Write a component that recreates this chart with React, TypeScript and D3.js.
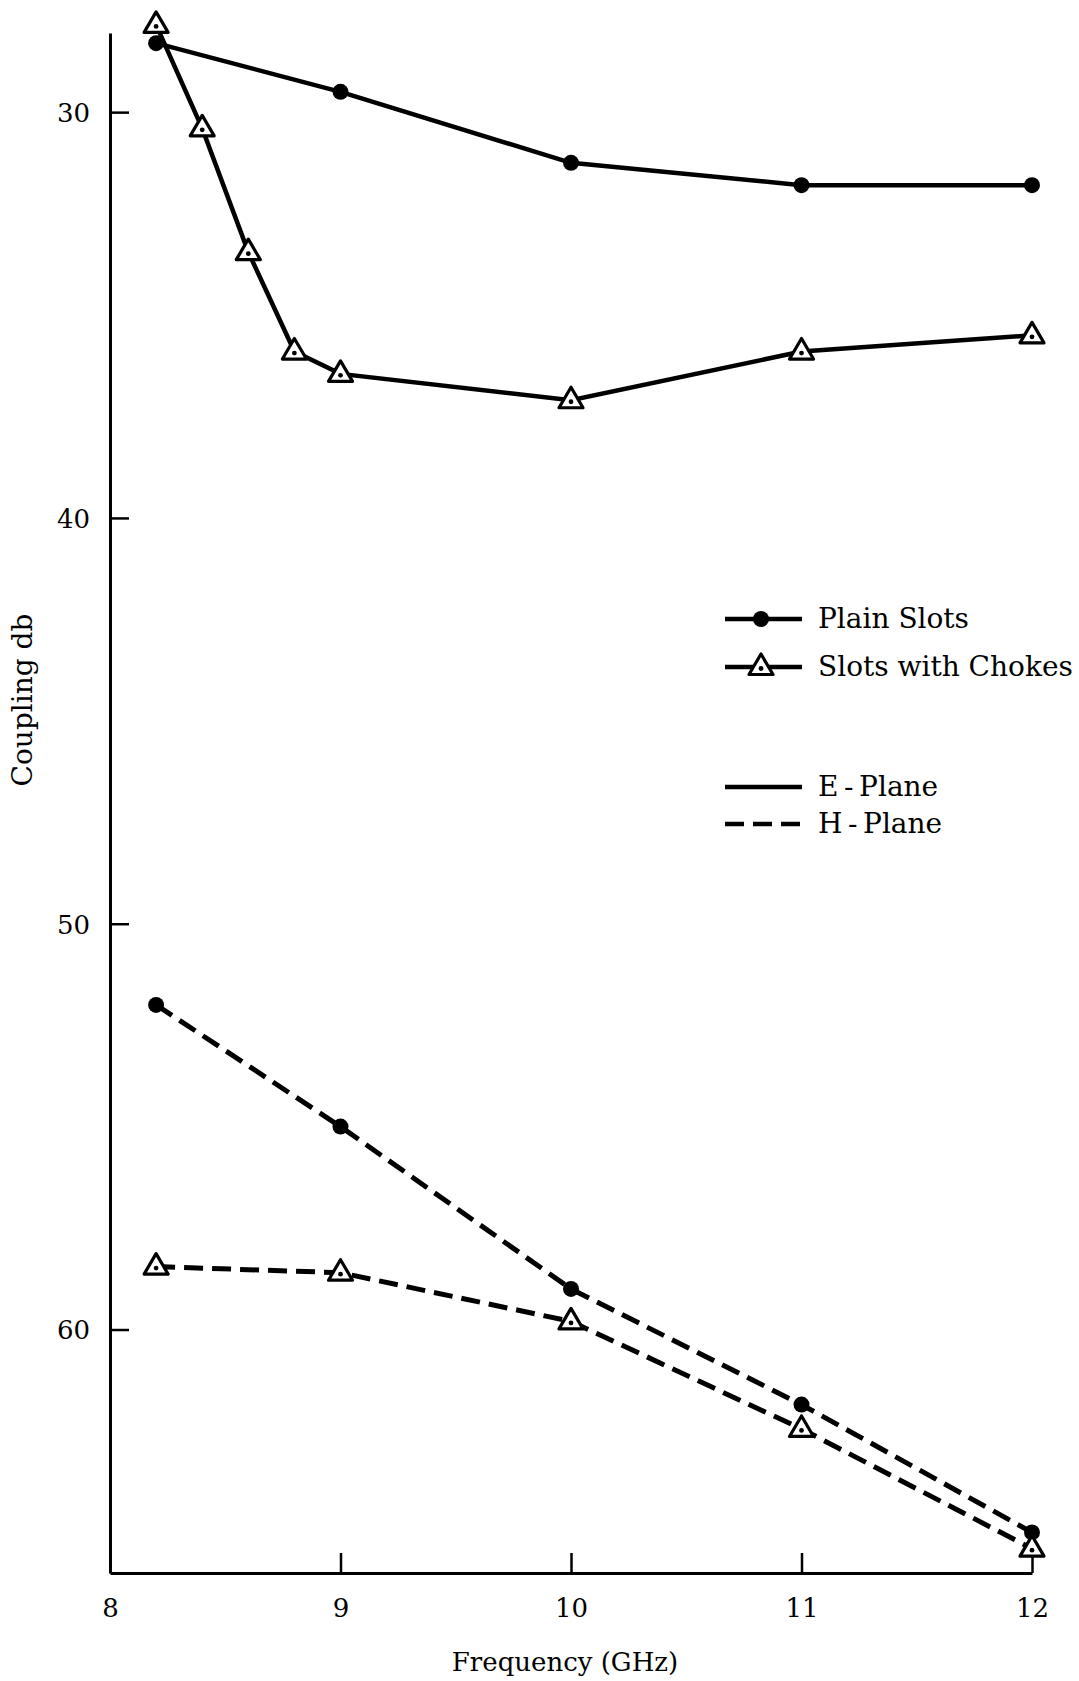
import { useEffect, useRef } from "react";
import * as d3 from "d3";

// frequency (GHz) for each series
const plainFreq = [8.2, 9, 10, 11, 12];
const chokeFreqE = [8.2, 8.4, 8.6, 8.8, 9, 10, 11, 12];
const chokeFreqH = [8.2, 9, 10, 11, 12];

// coupling (db)
const plainE = [28.3, 29.5, 31.25, 31.8, 31.8];
const chokeE = [27.85, 30.4, 33.45, 35.9, 36.45, 37.1, 35.9, 35.5];
const plainH = [52.0, 55.0, 59.0, 61.85, 65.0];
const chokeH = [58.45, 58.6, 59.8, 62.45, 65.4];

const xTicks = [8, 9, 10, 11, 12];
const yTicks = [30, 40, 50, 60];

const legendMarkers = ["Plain Slots", "Slots with Chokes"];
const legendLines = ["E\u2009-\u2009Plane", "H\u2009-\u2009Plane"];

const FONT = "'DejaVu Serif', 'Liberation Serif', serif";
const FS = "26px";
const LEGEND_FS = "28px";

export default function App() {
  const svgRef = useRef<SVGSVGElement | null>(null);
  const width = 1079;
  const height = 1681;

  useEffect(() => {
    if (!svgRef.current) return;
    const svg = d3.select(svgRef.current);
    svg.selectAll("*").remove();

    const x = d3.scaleLinear().domain([8, 12]).range([110, 1032]);
    const y = d3.scaleLinear().domain([28.05, 66]).range([33, 1573]);

    // axes
    const yAxis = d3.axisLeft(y).tickValues(yTicks).tickSizeInner(-19).tickSizeOuter(0).tickPadding(20);
    const gy = svg.append("g").attr("transform", `translate(${x(8)},0)`).call(yAxis);
    const xAxis = d3.axisBottom(x).tickValues(xTicks).tickFormat(d3.format("d")).tickSizeInner(-20).tickSizeOuter(0).tickPadding(26);
    const gx = svg.append("g").attr("transform", `translate(0,${y(66)})`).call(xAxis);

    [gx, gy].forEach(g => {
      g.select(".domain").attr("stroke", "#000").attr("stroke-width", 3);
      g.selectAll(".tick line").attr("stroke", "#000").attr("stroke-width", 2.5);
      g.selectAll(".tick text")
        .attr("fill", "#000")
        .style("font-family", FONT)
        .style("font-size", FS);
    });
    gy.selectAll(".tick text").attr("dy", "0.36em");

    // axis titles
    svg.append("text")
      .attr("x", 565).attr("y", 1671)
      .attr("text-anchor", "middle")
      .style("font-family", FONT).style("font-size", FS)
      .text("Frequency (GHz)");
    svg.append("text")
      .attr("transform", `translate(32,700) rotate(-90)`)
      .attr("text-anchor", "middle")
      .style("font-family", FONT).style("font-size", LEGEND_FS)
      .text("Coupling db");

    const line = d3.line<[number, number]>().x(d => x(d[0])).y(d => y(d[1]));

    const series = [
      { f: plainFreq, v: plainE, dashed: false, mark: "circle" },
      { f: chokeFreqE, v: chokeE, dashed: false, mark: "tri" },
      { f: plainFreq, v: plainH, dashed: true, mark: "circle" },
      { f: chokeFreqH, v: chokeH, dashed: true, mark: "tri" },
    ];

    const triPath = "M0,-13L12,7.5L-12,7.5Z";

    const drawMarker = (g: d3.Selection<SVGGElement, unknown, null, undefined>, kind: string, cx: number, cy: number) => {
      if (kind === "circle") {
        g.append("circle").attr("cx", cx).attr("cy", cy).attr("r", 8).attr("fill", "#000");
      } else {
        g.append("path").attr("d", triPath).attr("transform", `translate(${cx},${cy})`)
          .attr("fill", "#fff").attr("stroke", "#000").attr("stroke-width", 3.2).attr("stroke-linejoin", "round");
        g.append("circle").attr("cx", cx).attr("cy", cy + 1.5).attr("r", 2.4).attr("fill", "#000");
      }
    };

    series.forEach(s => {
      const pts = s.f.map((f, i) => [f, s.v[i]] as [number, number]);
      svg.append("path")
        .attr("d", line(pts))
        .attr("fill", "none")
        .attr("stroke", "#000")
        .attr("stroke-width", s.dashed ? 5 : 4.5)
        .attr("stroke-dasharray", s.dashed ? "19,9" : null);
    });
    series.forEach(s => {
      const g = svg.append("g");
      s.f.forEach((f, i) => drawMarker(g, s.mark, x(f), y(s.v[i])));
    });

    // legend
    const lg = svg.append("g");
    const markerRows = [619, 667];
    legendMarkers.forEach((label, i) => {
      const ly = markerRows[i];
      lg.append("line").attr("x1", 725).attr("x2", 802).attr("y1", ly).attr("y2", ly)
        .attr("stroke", "#000").attr("stroke-width", 4.5);
      drawMarker(lg, i === 0 ? "circle" : "tri", 761, ly);
      lg.append("text").attr("x", 818).attr("y", ly + 9)
        .style("font-family", FONT).style("font-size", LEGEND_FS).text(label);
    });
    const lineRows = [787, 824];
    legendLines.forEach((label, i) => {
      const ly = lineRows[i];
      lg.append("line").attr("x1", 725).attr("x2", 802).attr("y1", ly).attr("y2", ly)
        .attr("stroke", "#000").attr("stroke-width", 4.5)
        .attr("stroke-dasharray", i === 1 ? "19,9" : null);
      lg.append("text").attr("x", 818).attr("y", ly + 9)
        .style("font-family", FONT).style("font-size", LEGEND_FS).text(label);
    });
  }, []);

  return (
    <svg
      ref={svgRef}
      width={width}
      height={height}
      style={{ position: "absolute", left: 0, top: 0, background: "#fff" }}
    />
  );
}
